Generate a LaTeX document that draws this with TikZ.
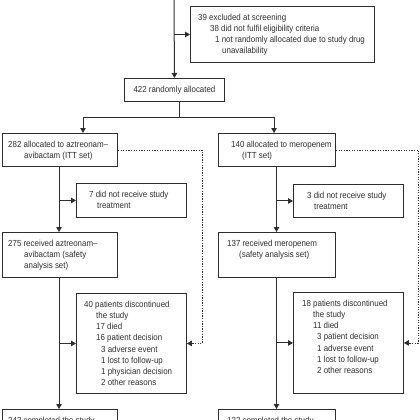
\documentclass[tikz,border=0pt]{standalone}
\usepackage{fontspec}
\setmainfont{Liberation Sans}[FakeStretch=0.9]
\usetikzlibrary{arrows.meta}
\definecolor{ink}{HTML}{2E2E2E}
\newcommand{\fl}{\rule{0pt}{8pt}}
\newcommand{\ind}[1]{\hspace*{#1pt}}
\begin{document}
\begin{tikzpicture}[x=1pt,y=-1pt,
  box/.style={draw=ink, line width=0.9pt, inner sep=0pt, anchor=north west},
  txt/.style={anchor=north west, inner sep=0pt, align=left, text=ink,
              font=\fontsize{8.8}{11.2}\selectfont},
  flow/.style={draw=ink, line width=1pt},
  arr/.style={flow, -{Triangle[length=5pt,width=5.5pt]}},
  dotline/.style={draw=ink, line width=0.9pt, dash pattern=on 1.3pt off 1.3pt,
                  -{Triangle[length=5pt,width=5.5pt]}}]
\useasboundingbox (0,0) rectangle (420,420);
\clip (0,0) rectangle (420,420);
% boxes
\node[box, minimum width=184pt, minimum height=56pt] (excl) at (190,6) {};
\node[box, minimum width=100pt, minimum height=23pt] (rand) at (124,78) {};
\node[box, minimum width=115pt, minimum height=33pt] (A) at (2,133) {};
\node[box, minimum width=117pt, minimum height=33pt] (B) at (218,133) {};
\node[box, minimum width=110pt, minimum height=34pt] (D) at (76,183) {};
\node[box, minimum width=110pt, minimum height=33pt] (E) at (293,184) {};
\node[box, minimum width=115pt, minimum height=45pt] (C) at (2,232) {};
\node[box, minimum width=117pt, minimum height=45pt] (F) at (218,232) {};
\node[box, minimum width=110pt, minimum height=100pt] (G) at (76,293) {};
\node[box, minimum width=110pt, minimum height=101pt] (H) at (293,292) {};
\node[box, minimum width=115pt, minimum height=40pt] (I) at (2,409) {};
\node[box, minimum width=117pt, minimum height=40pt] (J) at (218,409) {};
% texts
\node[txt] (excltxt) at (198,12) {\fl 39 excluded at screening\\
  \ind{12}38 did not fulfil eligibility criteria\\
  \ind{17}1 not randomly allocated due to study drug\\
  \ind{24}unavailability};
\node[anchor=center, inner sep=0pt, text=ink, font=\fontsize{8.8}{11.2}\selectfont] (randtxt) at (rand.center) {422 randomly allocated};
\node[txt] (Atxt) at (8,139) {\fl 282 allocated to aztreonam–\\ \ind{16}avibactam (ITT set)};
\node[txt] (Btxt) at (231,139) {\fl 140 allocated to meropenem\\ \ind{11}(ITT set)};
\node[txt] (Dtxt) at (89,189) {\fl 7 did not receive study\\ \ind{8}treatment};
\node[txt] (Etxt) at (307,190) {\fl 3 did not receive study\\ \ind{7}treatment};
\node[txt] (Ctxt) at (8,238) {\fl 275 received aztreonam–\\ \ind{16}avibactam (safety\\ \ind{16}analysis set)};
\node[txt] (Ftxt) at (227,238) {\fl 137 received meropenem\\ \ind{12}(safety analysis set)};
\node[txt] (Gtxt) at (84,299) {\fl 40 patients discontinued\\
  \ind{12}the study\\ \ind{12}17 died\\ \ind{12}16 patient decision\\
  \ind{17}3 adverse event\\ \ind{17}1 lost to follow-up\\
  \ind{17}1 physician decision\\ \ind{17}2 other reasons};
\node[txt] (Htxt) at (302,298) {\fl 18 patients discontinued\\
  \ind{11}the study\\ \ind{11}11 died\\ \ind{15}3 patient decision\\
  \ind{15}1 adverse event\\ \ind{15}1 lost to follow-up\\
  \ind{15}2 other reasons};
\node[txt] (Itxt) at (8,415) {\fl 242 completed the study};
\node[txt] (Jtxt) at (227,415) {\fl 122 completed the study};
% connectors
\coordinate (top) at (174,-5);
\draw[arr] (top) -- (rand.north);
\draw[arr] (top |- excl.west) -- (excl.west);
\coordinate (mid) at (179,0);
\coordinate (sl) at (83,117);
\coordinate (sr) at (274,117);
\draw[flow] (rand.south -| mid) -- (mid |- sl);
\draw[flow] (sl) -- (sr);
\draw[arr] (sl) -- (sl |- A.north);
\draw[arr] (sr) -- (sr |- B.north);
\coordinate (tl) at (59,0);
\coordinate (tr) at (276.5,0);
\draw[arr] (A.south -| tl) -- (C.north -| tl);
\draw[arr] (tl |- D.west) -- (D.west);
\draw[arr] (B.south -| tr) -- (F.north -| tr);
\draw[arr] (tr |- E.west) -- (E.west);
\draw[arr] (C.south -| tl) -- (I.north -| tl);
\draw[arr] (tl |- G.west) -- (G.west);
\draw[arr] (F.south -| tr) -- (J.north -| tr);
\draw[arr] (tr |- H.west) -- (H.west);
\coordinate (dl) at (202,0);
\coordinate (dr) at (418.5,0);
\draw[dotline] (A.east) -- (A.east -| dl) -- (dl |- G.east) -- (G.east);
\draw[dotline] (B.east) -- (B.east -| dr) -- (dr |- H.east) -- (H.east);
\end{tikzpicture}
\end{document}
